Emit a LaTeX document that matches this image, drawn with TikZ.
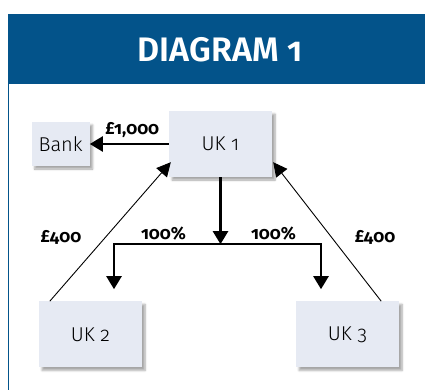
\documentclass[tikz,border=0pt]{standalone}
\usepackage{fontspec}
\setmainfont{Fira Sans}[Numbers=OldStyle]
\newfontfamily\lightfont{Fira Sans Light}[Numbers=OldStyle]
\newfontfamily\titlefont{Fira Sans SemiBold}[Numbers=OldStyle]
\usepackage{tikz}
\usetikzlibrary{arrows.meta,positioning,calc,shadows.blur}
\definecolor{headerblue}{RGB}{3,83,138}
\definecolor{entitygrey}{RGB}{230,234,243}
\tikzset{
  entity/.style={fill=entitygrey,minimum width=103pt,minimum height=66pt,
    font=\lightfont\fontsize{20}{22}\selectfont,
    blur shadow={shadow xshift=3pt,shadow yshift=-3pt,shadow blur steps=6,shadow opacity=35}},
  payment/.style={-{Triangle[length=13pt,width=15pt]},line width=2.4pt},
  loan/.style={-{Triangle[length=14pt,width=14pt]},line width=0.9pt},
  amount/.style={font=\bfseries\fontsize{17.5}{19}\selectfont,inner sep=1pt}
}
\begin{document}
\begin{tikzpicture}[x=1pt,y=-1pt]
\useasboundingbox (0,0) rectangle (425,390);
% title band and frame
\fill[headerblue] (8,14) rectangle (425,84);
\node[text=white,font=\titlefont\fontsize{34}{36}\selectfont] (title) at (220,50) {DIAGRAM 1};
\draw[headerblue,line width=1pt] (8.5,84) -- (8.5,390);
% companies
\node[entity] (uk1) at (220.5,144) {UK 1};
\node[entity,minimum width=58pt,minimum height=44pt,left=79pt of uk1] (bank) {Bank};
\node[entity,below=124pt of uk1,xshift=-130pt] (uk2) {UK 2};
\node[entity,below=124pt of uk1,xshift=127pt] (uk3) {UK 3};
\coordinate[below=67pt of uk1] (split);
% flows
\draw[payment] (uk1) -- (bank) node[amount,midway,above=4pt,xshift=3pt] (repay) {£1,000};
\draw[payment] (uk1) -- (split);
\draw[payment] (split) -| ([xshift=23.5pt,yshift=12pt]uk2.north);
\draw[payment] (split) -| ([xshift=-26.5pt,yshift=12pt]uk3.north);
\node[amount,above=3pt of split,xshift=-57pt] (shareleft) {100\%};
\node[amount,above=3pt of split,xshift=53pt] (shareright) {100\%};
\draw[loan] ([xshift=11pt]uk2.north west) -- ([xshift=2pt,yshift=15pt]uk1.south west);
\draw[loan] ([xshift=-18pt]uk3.north east) -- ([xshift=1pt,yshift=15pt]uk1.south east);
\node[amount] (loanleft) at (61,237) {£400};
\node[amount] (loanright) at (375,237) {£400};
\end{tikzpicture}
\end{document}
